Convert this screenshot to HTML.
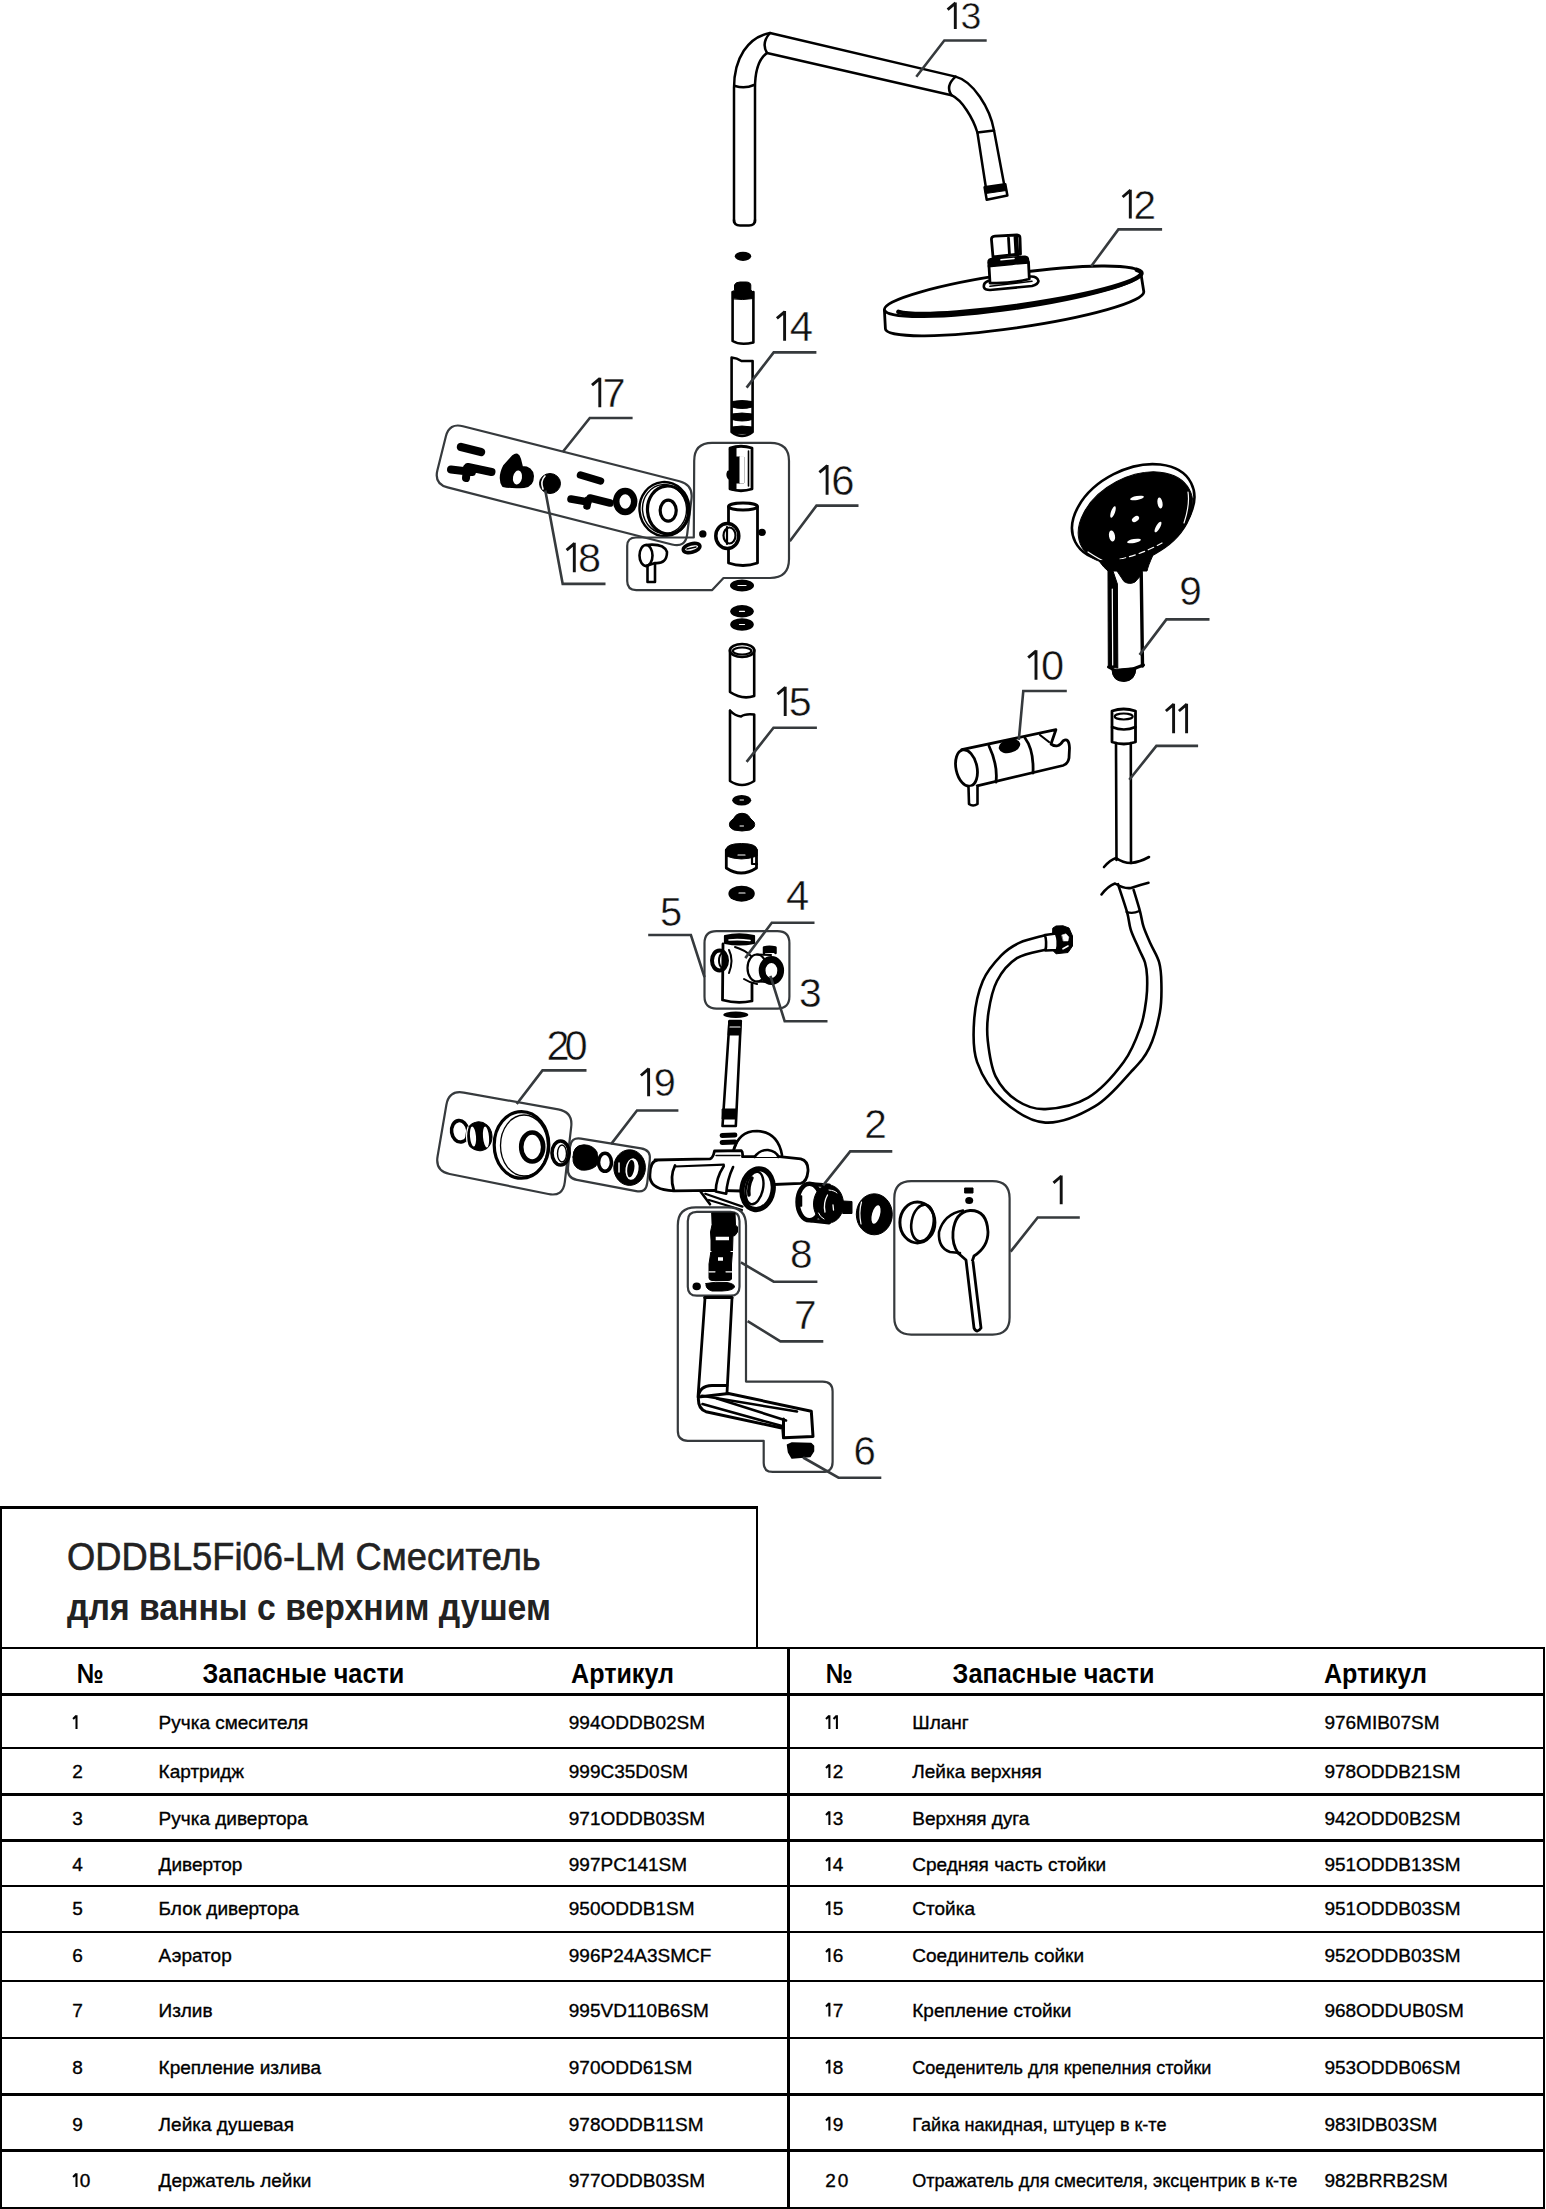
<!DOCTYPE html>
<html><head><meta charset="utf-8"><style>
html,body{margin:0;padding:0;background:#fff;}
body{width:1546px;height:2209px;overflow:hidden;position:relative;}
svg{position:absolute;left:0;top:0;font-family:"Liberation Sans",sans-serif;}
</style></head><body>
<svg width="1546" height="2209" viewBox="0 0 1546 2209">
<rect x="0" y="1506" width="758" height="3" fill="#000"/>
<rect x="0" y="1506" width="2" height="703" fill="#000"/>
<rect x="756" y="1506" width="2" height="142" fill="#000"/>
<rect x="0" y="1647" width="1545" height="2" fill="#000"/>
<rect x="0" y="1693" width="1545" height="3" fill="#000"/>
<rect x="0" y="1747" width="1545" height="2" fill="#000"/>
<rect x="0" y="1793" width="1545" height="3" fill="#000"/>
<rect x="0" y="1839" width="1545" height="3" fill="#000"/>
<rect x="0" y="1885" width="1545" height="2" fill="#000"/>
<rect x="0" y="1931" width="1545" height="2" fill="#000"/>
<rect x="0" y="1980" width="1545" height="2" fill="#000"/>
<rect x="0" y="2037" width="1545" height="2" fill="#000"/>
<rect x="0" y="2093" width="1545" height="3" fill="#000"/>
<rect x="0" y="2149" width="1545" height="3" fill="#000"/>
<rect x="0" y="2207" width="1545" height="2" fill="#000"/>
<rect x="787" y="1647" width="3" height="562" fill="#000"/>
<rect x="1543" y="1647" width="2" height="562" fill="#000"/>
<text transform="translate(67.0 1570.0) scale(0.9316 1)" font-size="39" font-weight="normal" fill="#222" stroke="#222" stroke-width="0.6">ODDBL5Fi06-LM Смеситель</text>
<text transform="translate(67.0 1620.0) scale(0.9254 1)" font-size="36.5" font-weight="bold" fill="#222" >для ванны с верхним душем</text>
<text transform="translate(76.8 1683.0) scale(0.8795 1)" font-size="27.5" font-weight="bold" fill="#000" >№</text>
<text transform="translate(202.5 1683.0) scale(0.9194 1)" font-size="27.5" font-weight="bold" fill="#000" >Запасные части</text>
<text transform="translate(571.0 1683.0) scale(0.9131 1)" font-size="27.5" font-weight="bold" fill="#000" >Артикул</text>
<text transform="translate(825.8 1683.0) scale(0.8795 1)" font-size="27.5" font-weight="bold" fill="#000" >№</text>
<text transform="translate(952.6 1683.0) scale(0.9194 1)" font-size="27.5" font-weight="bold" fill="#000" >Запасные части</text>
<text transform="translate(1323.9 1683.0) scale(0.9131 1)" font-size="27.5" font-weight="bold" fill="#000" >Артикул</text>
<path d="M 76.5,1715.2 L 76.5,1729.0 M 76.3,1715.8 L 73.1,1719.0" fill="none" stroke="#000" stroke-width="2.05" stroke-linecap="butt"/>
<text x="158.6" y="1729.0" font-size="19" font-weight="normal" fill="#000" stroke="#000" stroke-width="0.35">Ручка смесителя</text>
<text x="568.8" y="1729.0" font-size="19" font-weight="normal" fill="#000" stroke="#000" stroke-width="0.35">994ODDB02SM</text>
<path d="M 829.4,1715.2 L 829.4,1729.0 M 829.2,1715.8 L 826.0,1719.0" fill="none" stroke="#000" stroke-width="2.05" stroke-linecap="butt"/><path d="M 836.9,1715.2 L 836.9,1729.0 M 836.7,1715.8 L 833.5,1719.0" fill="none" stroke="#000" stroke-width="2.05" stroke-linecap="butt"/>
<text x="912.3" y="1729.0" font-size="19" font-weight="normal" fill="#000" stroke="#000" stroke-width="0.35">Шланг</text>
<text x="1324.4" y="1729.0" font-size="19" font-weight="normal" fill="#000" stroke="#000" stroke-width="0.35">976MIB07SM</text>
<text x="72.3" y="1778" font-size="19" fill="#000" stroke="#000" stroke-width="0.35">2</text>
<text x="158.6" y="1778.0" font-size="19" font-weight="normal" fill="#000" stroke="#000" stroke-width="0.35">Картридж</text>
<text x="568.8" y="1778.0" font-size="19" font-weight="normal" fill="#000" stroke="#000" stroke-width="0.35">999C35D0SM</text>
<path d="M 829.4,1764.2 L 829.4,1778.0 M 829.2,1764.8 L 826.0,1768.0" fill="none" stroke="#000" stroke-width="2.05" stroke-linecap="butt"/><text x="832.7" y="1778" font-size="19" fill="#000" stroke="#000" stroke-width="0.35">2</text>
<text x="912.3" y="1778.0" font-size="19" font-weight="normal" fill="#000" stroke="#000" stroke-width="0.35">Лейка верхняя</text>
<text x="1324.4" y="1778.0" font-size="19" font-weight="normal" fill="#000" stroke="#000" stroke-width="0.35">978ODDB21SM</text>
<text x="72.3" y="1825" font-size="19" fill="#000" stroke="#000" stroke-width="0.35">3</text>
<text x="158.6" y="1825.0" font-size="19" font-weight="normal" fill="#000" stroke="#000" stroke-width="0.35">Ручка дивертора</text>
<text x="568.8" y="1825.0" font-size="19" font-weight="normal" fill="#000" stroke="#000" stroke-width="0.35">971ODDB03SM</text>
<path d="M 829.4,1811.2 L 829.4,1825.0 M 829.2,1811.8 L 826.0,1815.0" fill="none" stroke="#000" stroke-width="2.05" stroke-linecap="butt"/><text x="832.7" y="1825" font-size="19" fill="#000" stroke="#000" stroke-width="0.35">3</text>
<text x="912.3" y="1825.0" font-size="19" font-weight="normal" fill="#000" stroke="#000" stroke-width="0.35">Верхняя дуга</text>
<text x="1324.4" y="1825.0" font-size="19" font-weight="normal" fill="#000" stroke="#000" stroke-width="0.35">942ODD0B2SM</text>
<text x="72.3" y="1871" font-size="19" fill="#000" stroke="#000" stroke-width="0.35">4</text>
<text x="158.6" y="1871.0" font-size="19" font-weight="normal" fill="#000" stroke="#000" stroke-width="0.35">Дивертор</text>
<text x="568.8" y="1871.0" font-size="19" font-weight="normal" fill="#000" stroke="#000" stroke-width="0.35">997PC141SM</text>
<path d="M 829.4,1857.2 L 829.4,1871.0 M 829.2,1857.8 L 826.0,1861.0" fill="none" stroke="#000" stroke-width="2.05" stroke-linecap="butt"/><text x="832.7" y="1871" font-size="19" fill="#000" stroke="#000" stroke-width="0.35">4</text>
<text x="912.3" y="1871.0" font-size="19" font-weight="normal" fill="#000" stroke="#000" stroke-width="0.35">Средняя часть стойки</text>
<text x="1324.4" y="1871.0" font-size="19" font-weight="normal" fill="#000" stroke="#000" stroke-width="0.35">951ODDB13SM</text>
<text x="72.3" y="1915" font-size="19" fill="#000" stroke="#000" stroke-width="0.35">5</text>
<text x="158.6" y="1915.0" font-size="19" font-weight="normal" fill="#000" stroke="#000" stroke-width="0.35">Блок дивертора</text>
<text x="568.8" y="1915.0" font-size="19" font-weight="normal" fill="#000" stroke="#000" stroke-width="0.35">950ODDB1SM</text>
<path d="M 829.4,1901.2 L 829.4,1915.0 M 829.2,1901.8 L 826.0,1905.0" fill="none" stroke="#000" stroke-width="2.05" stroke-linecap="butt"/><text x="832.7" y="1915" font-size="19" fill="#000" stroke="#000" stroke-width="0.35">5</text>
<text x="912.3" y="1915.0" font-size="19" font-weight="normal" fill="#000" stroke="#000" stroke-width="0.35">Стойка</text>
<text x="1324.4" y="1915.0" font-size="19" font-weight="normal" fill="#000" stroke="#000" stroke-width="0.35">951ODDB03SM</text>
<text x="72.3" y="1962" font-size="19" fill="#000" stroke="#000" stroke-width="0.35">6</text>
<text x="158.6" y="1962.0" font-size="19" font-weight="normal" fill="#000" stroke="#000" stroke-width="0.35">Аэратор</text>
<text x="568.8" y="1962.0" font-size="19" font-weight="normal" fill="#000" stroke="#000" stroke-width="0.35">996P24A3SMCF</text>
<path d="M 829.4,1948.2 L 829.4,1962.0 M 829.2,1948.8 L 826.0,1952.0" fill="none" stroke="#000" stroke-width="2.05" stroke-linecap="butt"/><text x="832.7" y="1962" font-size="19" fill="#000" stroke="#000" stroke-width="0.35">6</text>
<text x="912.3" y="1962.0" font-size="19" font-weight="normal" fill="#000" stroke="#000" stroke-width="0.35">Соединитель сойки</text>
<text x="1324.4" y="1962.0" font-size="19" font-weight="normal" fill="#000" stroke="#000" stroke-width="0.35">952ODDB03SM</text>
<text x="72.3" y="2016.5" font-size="19" fill="#000" stroke="#000" stroke-width="0.35">7</text>
<text x="158.6" y="2016.5" font-size="19" font-weight="normal" fill="#000" stroke="#000" stroke-width="0.35">Излив</text>
<text x="568.8" y="2016.5" font-size="19" font-weight="normal" fill="#000" stroke="#000" stroke-width="0.35">995VD110B6SM</text>
<path d="M 829.4,2002.7 L 829.4,2016.5 M 829.2,2003.3 L 826.0,2006.5" fill="none" stroke="#000" stroke-width="2.05" stroke-linecap="butt"/><text x="832.7" y="2016.5" font-size="19" fill="#000" stroke="#000" stroke-width="0.35">7</text>
<text x="912.3" y="2016.5" font-size="19" font-weight="normal" fill="#000" stroke="#000" stroke-width="0.35">Крепление стойки</text>
<text x="1324.4" y="2016.5" font-size="19" font-weight="normal" fill="#000" stroke="#000" stroke-width="0.35">968ODDUB0SM</text>
<text x="72.3" y="2073.5" font-size="19" fill="#000" stroke="#000" stroke-width="0.35">8</text>
<text x="158.6" y="2073.5" font-size="19" font-weight="normal" fill="#000" stroke="#000" stroke-width="0.35">Крепление излива</text>
<text x="568.8" y="2073.5" font-size="19" font-weight="normal" fill="#000" stroke="#000" stroke-width="0.35">970ODD61SM</text>
<path d="M 829.4,2059.7 L 829.4,2073.5 M 829.2,2060.3 L 826.0,2063.5" fill="none" stroke="#000" stroke-width="2.05" stroke-linecap="butt"/><text x="832.7" y="2073.5" font-size="19" fill="#000" stroke="#000" stroke-width="0.35">8</text>
<text transform="translate(912.3 2073.5) scale(0.9500 1)" font-size="19" font-weight="normal" fill="#000" stroke="#000" stroke-width="0.35">Соеденитель для крепелния стойки</text>
<text x="1324.4" y="2073.5" font-size="19" font-weight="normal" fill="#000" stroke="#000" stroke-width="0.35">953ODDB06SM</text>
<text x="72.3" y="2130.5" font-size="19" fill="#000" stroke="#000" stroke-width="0.35">9</text>
<text x="158.6" y="2130.5" font-size="19" font-weight="normal" fill="#000" stroke="#000" stroke-width="0.35">Лейка душевая</text>
<text x="568.8" y="2130.5" font-size="19" font-weight="normal" fill="#000" stroke="#000" stroke-width="0.35">978ODDB11SM</text>
<path d="M 829.4,2116.7 L 829.4,2130.5 M 829.2,2117.3 L 826.0,2120.5" fill="none" stroke="#000" stroke-width="2.05" stroke-linecap="butt"/><text x="832.7" y="2130.5" font-size="19" fill="#000" stroke="#000" stroke-width="0.35">9</text>
<text transform="translate(912.3 2130.5) scale(0.9500 1)" font-size="19" font-weight="normal" fill="#000" stroke="#000" stroke-width="0.35">Гайка накидная, штуцер в к-те</text>
<text x="1324.4" y="2130.5" font-size="19" font-weight="normal" fill="#000" stroke="#000" stroke-width="0.35">983IDB03SM</text>
<path d="M 76.5,2173.2 L 76.5,2187.0 M 76.3,2173.8 L 73.1,2177.0" fill="none" stroke="#000" stroke-width="2.05" stroke-linecap="butt"/><text x="79.8" y="2187" font-size="19" fill="#000" stroke="#000" stroke-width="0.35">0</text>
<text x="158.6" y="2187.0" font-size="19" font-weight="normal" fill="#000" stroke="#000" stroke-width="0.35">Держатель лейки</text>
<text x="568.8" y="2187.0" font-size="19" font-weight="normal" fill="#000" stroke="#000" stroke-width="0.35">977ODDB03SM</text>
<text x="825.2" y="2187" font-size="19" fill="#000" stroke="#000" stroke-width="0.35">2</text><text x="837.8" y="2187" font-size="19" fill="#000" stroke="#000" stroke-width="0.35">0</text>
<text transform="translate(912.3 2187.0) scale(0.9500 1)" font-size="19" font-weight="normal" fill="#000" stroke="#000" stroke-width="0.35">Отражатель для смесителя, эксцентрик в к-те</text>
<text x="1324.4" y="2187.0" font-size="19" font-weight="normal" fill="#000" stroke="#000" stroke-width="0.35">982BRRB2SM</text>
<path d="M 734,222 L 734,88 C 734,58 748,37 770,33 L 955.6,76.6 C 973,81 990,108 994,130.4 L 1004.3,185.3" fill="none" stroke="#000" stroke-width="2.5" stroke-linejoin="round" stroke-linecap="round" />
<path d="M 755,222 L 755,88 C 755,70 760,58 767,53 L 951.5,95.2 C 962,100 973,118 977.4,132.5 L 985.7,186.3" fill="none" stroke="#000" stroke-width="2.5" stroke-linejoin="round" stroke-linecap="round" />
<path d="M 734,220 Q 734,225.5 740,225.5 L 749,225.5 Q 755,225.5 755,220" fill="none" stroke="#000" stroke-width="2.5" stroke-linejoin="round" stroke-linecap="round" />
<path d="M 735,86 Q 745,89 754,85" fill="none" stroke="#000" stroke-width="2.5" stroke-linejoin="round" stroke-linecap="round" />
<path d="M 770,33 Q 761,43 767,53" fill="none" stroke="#000" stroke-width="2.5" stroke-linejoin="round" stroke-linecap="round" />
<path d="M 955.6,76.6 Q 945,86 951.5,95.2" fill="none" stroke="#000" stroke-width="2.5" stroke-linejoin="round" stroke-linecap="round" />
<path d="M 977.4,132.5 L 994,130.4" fill="none" stroke="#000" stroke-width="2.5" stroke-linejoin="round" stroke-linecap="round" />
<path d="M 984.6,187.3 L 1005.3,184.2 L 1007.4,195.6 L 986.7,199.8 Z" fill="none" stroke="#000" stroke-width="2.5" stroke-linejoin="round" stroke-linecap="round" />
<path d="M 984.8,187.5 L 1005.3,184.4 L 1006.3,190.5 L 985.8,193.5 Z" fill="#000" stroke="#000" stroke-width="1" stroke-linejoin="round" stroke-linecap="round" />
<path d="M 884.4,309.8 L 885.4,328.8 A 129.5 17.5 -8.2 0 0 1143.8,291.8 L 1140.8,272.8" fill="#fff" stroke="#000" stroke-width="2.8" stroke-linejoin="round" stroke-linecap="round" />
<ellipse cx="1012.6" cy="291.3" rx="129.5" ry="17.5" fill="#fff" stroke="#000" stroke-width="2.8" transform="rotate(-8.2 1012.6 291.3)"/>
<path d="M 898.4,311.8 A 121.5 14.5 -8.2 0 0 1136.8,269.8" fill="none" stroke="#000" stroke-width="4.5" stroke-linejoin="round" stroke-linecap="round" />
<path d="M 984,287.5 Q 983,283 988,281 L 1030,276.5 Q 1037,276 1038.5,281 Q 1038,284.5 1032,286 L 990,290 Q 985,290 984,287.5 Z" fill="#fff" stroke="#000" stroke-width="2.6" stroke-linejoin="round" stroke-linecap="round" />
<path d="M 990,286.3 L 1032,281.3" fill="none" stroke="#000" stroke-width="1.6" stroke-linejoin="round" stroke-linecap="round" />
<path d="M 989,266 L 990,283 Q 1010,284 1029.3,279 L 1028.5,262" fill="#fff" stroke="#000" stroke-width="2.8" stroke-linejoin="round" stroke-linecap="round" />
<path d="M 988,262.5 Q 988,258.5 993,258.3 L 1025,256.2 Q 1028.5,256.5 1028.5,260 L 1028.4,263 Q 1020,263.5 1012,264.5 L 988.5,266.8 Z" fill="#000" stroke="#000" stroke-width="1.5" stroke-linejoin="round" stroke-linecap="round" />
<path d="M 1001,259.8 L 1014,258.5" fill="none" stroke="#fff" stroke-width="1.6" stroke-linejoin="round" stroke-linecap="round" />
<path d="M 991.5,240 Q 991,236.5 995,236.2 L 1017,235 Q 1020,235.2 1020,238 L 1020.5,254 L 993,257 Z" fill="#fff" stroke="#000" stroke-width="2.8" stroke-linejoin="round" stroke-linecap="round" />
<path d="M 1008.5,238 L 1009.5,255 M 1015,237.5 L 1016,255" fill="none" stroke="#000" stroke-width="2.8" stroke-linejoin="round" stroke-linecap="round" />
<path d="M 1017,237 L 1018,255" fill="none" stroke="#000" stroke-width="2.5" stroke-linejoin="round" stroke-linecap="round" />
<ellipse cx="743" cy="256.3" rx="8.2" ry="4.6" fill="#000"/>
<path d="M 732.6,292 L 732.6,341 Q 740,345.5 753.4,342.5 L 753.4,292" fill="none" stroke="#000" stroke-width="2.6" stroke-linejoin="round" stroke-linecap="round" />
<path d="M 732.4,298.5 L 732.4,292 L 734.5,290 L 734.5,285 Q 735.5,282 740,282 L 746,282 Q 750.5,282 750.8,285 L 750.8,290 L 753.6,292.5 L 753.6,298.5 L 743,299.5 Z" fill="#000" stroke="#000" stroke-width="1" stroke-linejoin="round" stroke-linecap="round" />
<path d="M 731.6,357.5 L 731.6,432 Q 742,440 752.6,432 L 752.6,361 L 741.5,361 Q 737,358 731.6,357.5 Z" fill="none" stroke="#000" stroke-width="2.6" stroke-linejoin="round" stroke-linecap="round" />
<path d="M 732,401.5 Q 742,399.5 752.2,401.5 L 752.2,407.0 Q 742,410.0 732,407.0 Z" fill="#000" stroke="#000" stroke-width="1" stroke-linejoin="round" stroke-linecap="round" />
<path d="M 732,414 Q 742,412 752.2,414 L 752.2,419.5 Q 742,422.5 732,419.5 Z" fill="#000" stroke="#000" stroke-width="1" stroke-linejoin="round" stroke-linecap="round" />
<path d="M 732,427 Q 742,425 752.2,427 L 752.2,432.5 Q 742,435.5 732,432.5 Z" fill="#000" stroke="#000" stroke-width="1" stroke-linejoin="round" stroke-linecap="round" />
<path d="M 445.9,436.3 Q 449.3,422.7 462.9,426.2 L 679.5,481.2 Q 693.1,484.7 691.5,498.6 L 687.2,534.1 Q 685.6,548.0 672.0,544.5 L 447.6,487.4 Q 434.0,483.9 437.4,470.3 Z" fill="none" stroke="#363a3d" stroke-width="2.2" stroke-linejoin="round" stroke-linecap="butt"/>
<path d="M 461,447 L 481,452" fill="none" stroke="#000" stroke-width="8.5" stroke-linejoin="round" stroke-linecap="round" />
<path d="M 451,469.5 L 472,472 M 468,467 L 491.5,472 M 467,468 L 466,478" fill="none" stroke="#000" stroke-width="8" stroke-linejoin="round" stroke-linecap="round" />
<path d="M 503,486 Q 498,478 504,466 L 513,456 Q 518,452 520,459 L 522,467 Q 532,467 533,476 Q 533,486 524,487 Q 512,488 503,486 Z" fill="#000" stroke="#000" stroke-width="2" stroke-linejoin="round" stroke-linecap="round" />
<ellipse cx="517.5" cy="477.5" rx="5.5" ry="8" fill="#fff" stroke="#000" stroke-width="2" transform="rotate(10 517.5 477.5)"/>
<path d="M 522,470 Q 526,477 522,485" fill="none" stroke="#000" stroke-width="2.2" stroke-linejoin="round" stroke-linecap="round" />
<ellipse cx="550" cy="483.5" rx="10.5" ry="10" fill="#000" stroke="#000" stroke-width="1"/>
<path d="M 545,476 Q 540,481 543,489" fill="none" stroke="#fff" stroke-width="1.6" stroke-linejoin="round" stroke-linecap="round" />
<path d="M 580.5,475 L 600.5,481" fill="none" stroke="#000" stroke-width="7.5" stroke-linejoin="round" stroke-linecap="round" />
<path d="M 571,499 L 588,502 M 590,498 L 610,503 M 588,500 L 587,506" fill="none" stroke="#000" stroke-width="7.5" stroke-linejoin="round" stroke-linecap="round" />
<ellipse cx="625.2" cy="501.5" rx="9" ry="10.5" fill="none" stroke="#000" stroke-width="6.5"/>
<ellipse cx="664.5" cy="509" rx="25" ry="27" fill="#fff" stroke="#000" stroke-width="2.4" transform="rotate(-5 664.5 509)"/>
<ellipse cx="664.5" cy="509" rx="22" ry="24.5" fill="none" stroke="#000" stroke-width="1.4" transform="rotate(-5 664.5 509)"/>
<ellipse cx="668" cy="510" rx="20.5" ry="24" fill="none" stroke="#000" stroke-width="3.2" transform="rotate(-5 668 510)"/>
<ellipse cx="668.2" cy="510.7" rx="8" ry="10.5" fill="none" stroke="#000" stroke-width="3.2"/>
<path d="M 712,442.9 L 770.4,442.9 Q 789,442.9 789,461 L 789,559 Q 789,578 770,578 L 723.5,578 L 712.2,590.1 L 636.2,590.1 Q 627.2,590 627.2,581 L 627.2,546 Q 627.2,537.5 636,537.5 L 693.8,537.5 L 694.2,461 Q 694.2,442.9 712,442.9 Z" fill="none" stroke="#363a3d" stroke-width="2.2" stroke-linejoin="round" stroke-linecap="butt"/>
<path d="M 730,448 Q 741,444.5 752,448 L 752,489 Q 741,492.5 730,489 Z" fill="none" stroke="#000" stroke-width="2.8" stroke-linejoin="round" stroke-linecap="round" />
<path d="M 729.5,449 L 729.5,489 Q 733,491 736,490 L 736,483 L 744,483 L 744,457 L 736,457 L 736,448 Q 733,447 729.5,449 Z" fill="#000" stroke="#000" stroke-width="1" stroke-linejoin="round" stroke-linecap="round" />
<path d="M 744,457 L 744,483 L 740,483 L 740,457 Z" fill="#fff" stroke="#fff" stroke-width="1" stroke-linejoin="round" stroke-linecap="round" />
<path d="M 748.5,451 L 748.5,486" fill="none" stroke="#000" stroke-width="1.6" stroke-linejoin="round" stroke-linecap="round" />
<path d="M 728.5,472 Q 727,475 729,478" fill="none" stroke="#000" stroke-width="3" stroke-linejoin="round" stroke-linecap="round" />
<path d="M 728.5,507 L 728.5,563 Q 743,568 757.5,563 L 757.5,507" fill="none" stroke="#000" stroke-width="2.8" stroke-linejoin="round" stroke-linecap="round" />
<ellipse cx="743" cy="506.5" rx="14.5" ry="3.5" fill="none" stroke="#000" stroke-width="2.8"/>
<ellipse cx="727.3" cy="536" rx="11.5" ry="12.5" fill="#fff" stroke="#000" stroke-width="3.5"/>
<ellipse cx="729.5" cy="535.5" rx="6" ry="8" fill="none" stroke="#000" stroke-width="2.2"/>
<path d="M 727,527 L 727,544" fill="none" stroke="#000" stroke-width="2.2" stroke-linejoin="round" stroke-linecap="round" />
<ellipse cx="762" cy="532.3" rx="3.8" ry="3.6" fill="#000"/>
<ellipse cx="702.8" cy="533.9" rx="3.7" ry="3.6" fill="#000"/>
<ellipse cx="691.6" cy="548" rx="8.5" ry="4.2" fill="none" stroke="#000" stroke-width="3.6" transform="rotate(-15 691.6 548)"/>
<path d="M 687,549 L 696,547" fill="none" stroke="#000" stroke-width="1.5" stroke-linejoin="round" stroke-linecap="round" />
<ellipse cx="646" cy="555.5" rx="6.5" ry="10.5" fill="#fff" stroke="#000" stroke-width="2.6"/>
<path d="M 646,545 Q 664,543 667,552 Q 667,564 655,563 L 646,566" fill="none" stroke="#000" stroke-width="2.6" stroke-linejoin="round" stroke-linecap="round" />
<path d="M 647.5,566 L 647.5,582 L 655,582 L 655,564" fill="none" stroke="#000" stroke-width="2.6" stroke-linejoin="round" stroke-linecap="round" />
<ellipse cx="742" cy="585.6" rx="12" ry="6" fill="#000"/>
<path d="M 738,585.5 L 746,585.5" fill="none" stroke="#fff" stroke-width="1.2" stroke-linejoin="round" stroke-linecap="round" />
<ellipse cx="742" cy="611.3" rx="11.8" ry="6.2" fill="#000"/>
<path d="M 739.5,611.3 L 744.5,611.3" fill="none" stroke="#fff" stroke-width="1.2" stroke-linejoin="round" stroke-linecap="round" />
<ellipse cx="742" cy="624.5" rx="11.8" ry="6.2" fill="#000"/>
<path d="M 739.5,624.5 L 744.5,624.5" fill="none" stroke="#fff" stroke-width="1.2" stroke-linejoin="round" stroke-linecap="round" />
<path d="M 730,650 L 730,692 Q 742,700 754.2,696 L 754.2,650" fill="none" stroke="#000" stroke-width="2.6" stroke-linejoin="round" stroke-linecap="round" />
<ellipse cx="742.1" cy="650.5" rx="12.2" ry="6.5" fill="none" stroke="#000" stroke-width="2.6"/>
<ellipse cx="742.1" cy="651" rx="9.2" ry="3.5" fill="none" stroke="#000" stroke-width="2.2"/>
<path d="M 730,710.5 L 730,781 Q 742,789 754.2,781 L 754.2,714.5 Q 745,713.5 741,716.5 Q 735,716 730,710.5 Z" fill="none" stroke="#000" stroke-width="2.6" stroke-linejoin="round" stroke-linecap="round" />
<ellipse cx="741.7" cy="800.2" rx="9.5" ry="5.3" fill="#000"/>
<path d="M 740,800 L 743.5,800" fill="none" stroke="#fff" stroke-width="1" stroke-linejoin="round" stroke-linecap="round" />
<path d="M 734,818 Q 736,813.5 742,813.3 Q 748,813.5 750,818 L 754,822 Q 756.5,827 750,830 Q 742,832 734,830 Q 727.5,827 730,822 Z" fill="#000" stroke="#000" stroke-width="1" stroke-linejoin="round" stroke-linecap="round" />
<path d="M 740,826 L 743.5,826" fill="none" stroke="#fff" stroke-width="1" stroke-linejoin="round" stroke-linecap="round" />
<path d="M 726.3,850 L 726.3,868 Q 741,878 756.5,868 L 756.5,850" fill="none" stroke="#000" stroke-width="2.8" stroke-linejoin="round" stroke-linecap="round" />
<path d="M 726,850 Q 726,843.5 741.5,843.5 Q 757,843.5 757,850 L 757,856 Q 741.5,862 726,856 Z" fill="#000" stroke="#000" stroke-width="1" stroke-linejoin="round" stroke-linecap="round" />
<path d="M 738,855 L 745,855" fill="none" stroke="#fff" stroke-width="1.2" stroke-linejoin="round" stroke-linecap="round" />
<path d="M 752,856 L 752,864 L 757,864" fill="none" stroke="#000" stroke-width="2.2" stroke-linejoin="round" stroke-linecap="round" />
<ellipse cx="741.6" cy="893.7" rx="13.2" ry="8" fill="#000"/>
<path d="M 739,893 L 745,893" fill="none" stroke="#fff" stroke-width="1.2" stroke-linejoin="round" stroke-linecap="round" />
<path d="M 704.5,943.1 Q 704.5,931.1 716.5,931.1 L 777.4,931.1 Q 789.4,931.1 789.4,943.1 L 789.4,996.6 Q 789.4,1008.6 777.4,1008.6 L 716.5,1008.6 Q 704.5,1008.6 704.5,996.6 Z" fill="none" stroke="#363a3d" stroke-width="2.2" stroke-linejoin="round" stroke-linecap="butt"/>
<path d="M 723,944 L 722.5,1000 Q 737,1004 752,1001 L 752,984" fill="none" stroke="#000" stroke-width="2.8" stroke-linejoin="round" stroke-linecap="round" />
<path d="M 725,936 Q 739,932.5 754,936 L 754,943 Q 739,946 725,943 Z" fill="#000" stroke="#000" stroke-width="2.2" stroke-linejoin="round" stroke-linecap="round" />
<path d="M 729,940 Q 739,939 750,940.5" fill="none" stroke="#fff" stroke-width="1.6" stroke-linejoin="round" stroke-linecap="round" />
<ellipse cx="719.5" cy="960.5" rx="7.5" ry="10" fill="none" stroke="#000" stroke-width="4"/>
<ellipse cx="722" cy="960.5" rx="3" ry="7" fill="none" stroke="#000" stroke-width="2"/>
<path d="M 729,950 Q 734,960 729,973" fill="none" stroke="#000" stroke-width="2" stroke-linejoin="round" stroke-linecap="round" />
<path d="M 735,947 Q 745,950 751,956" fill="none" stroke="#000" stroke-width="2" stroke-linejoin="round" stroke-linecap="round" />
<path d="M 744,979 Q 750,983 757,984" fill="none" stroke="#000" stroke-width="2" stroke-linejoin="round" stroke-linecap="round" />
<ellipse cx="757" cy="968" rx="9.5" ry="13.5" fill="#fff" stroke="#000" stroke-width="2.2"/>
<path d="M 757,954.5 L 771,955 M 757,981.5 L 770,982" fill="none" stroke="#000" stroke-width="2.2" stroke-linejoin="round" stroke-linecap="round" />
<ellipse cx="771.4" cy="970.5" rx="9.3" ry="11" fill="#fff" stroke="#000" stroke-width="6.8"/>
<path d="M 764,953 L 764,947.5 Q 769,946 775.5,947.5 L 775.5,953" fill="#000" stroke="#000" stroke-width="2.5" stroke-linejoin="round" stroke-linecap="round" />
<ellipse cx="735.8" cy="1014.7" rx="12.5" ry="3.2" fill="#000"/>
<path d="M 729.5,1021 L 722.5,1126 L 735.8,1126 L 740.8,1021 Z" fill="none" stroke="#000" stroke-width="2.6" stroke-linejoin="round" stroke-linecap="round" />
<path d="M 729,1021 L 741,1021 L 740.5,1035 L 728.5,1035 Z" fill="#000" stroke="#000" stroke-width="1" stroke-linejoin="round" stroke-linecap="round" />
<path d="M 730,1027 L 740,1027" fill="none" stroke="#fff" stroke-width="1.2" stroke-linejoin="round" stroke-linecap="round" />
<path d="M 722.5,1109 L 736.5,1109 L 736.3,1119 L 722.5,1119 Z" fill="#000" stroke="#000" stroke-width="1" stroke-linejoin="round" stroke-linecap="round" />
<path d="M 722,1135.5 L 735,1135 M 722,1142.5 L 735,1142" fill="none" stroke="#000" stroke-width="4.8" stroke-linejoin="round" stroke-linecap="round" />
<path d="M 733,1152 Q 738,1131 757,1131 Q 778,1132 782,1155" fill="#fff" stroke="#000" stroke-width="2.6" stroke-linejoin="round" stroke-linecap="round" />
<path d="M 734.5,1150 Q 737,1141 743,1135" fill="none" stroke="#000" stroke-width="1.0" stroke-linejoin="round" stroke-linecap="round" />
<path d="M 655,1160 L 710,1158.9 Q 713,1158 714.5,1151 L 741.3,1150.7 Q 743,1152 742.5,1156.6 L 779.7,1156.6 L 800.7,1158.9 Q 808.5,1161 808,1171 Q 807,1182 800.7,1183.3 L 773.9,1184.5 L 742,1191 L 715.7,1190.3 L 673.8,1190.8 Q 652,1190 650,1178 Q 649,1161 658,1160 Z" fill="#fff" stroke="#000" stroke-width="2.8" stroke-linejoin="round" stroke-linecap="round" />
<path d="M 716,1155.5 L 740,1155.5" fill="none" stroke="#000" stroke-width="1.5" stroke-linejoin="round" stroke-linecap="round" />
<path d="M 675,1165.5 Q 669.5,1177 673.8,1190.3" fill="none" stroke="#000" stroke-width="2.8" stroke-linejoin="round" stroke-linecap="round" />
<path d="M 675,1166.5 L 723.8,1164.7" fill="none" stroke="#000" stroke-width="2.2" stroke-linejoin="round" stroke-linecap="round" />
<path d="M 754.5,1157 Q 760,1149.5 768,1150 Q 776,1151 778.5,1157" fill="#fff" stroke="#000" stroke-width="2.6" stroke-linejoin="round" stroke-linecap="round" />
<path d="M 723.8,1166 Q 716,1178 715.7,1191.5 L 726.2,1193.8 Q 727,1180 733.1,1167" fill="#fff" stroke="#000" stroke-width="2.6" stroke-linejoin="round" stroke-linecap="round" />
<path d="M 700.5,1191.5 L 710,1204.3" fill="none" stroke="#000" stroke-width="2.6" stroke-linejoin="round" stroke-linecap="round" />
<path d="M 705.2,1193.8 L 742.5,1206.6 M 709,1200 L 742,1210" fill="none" stroke="#000" stroke-width="2.2" stroke-linejoin="round" stroke-linecap="round" />
<ellipse cx="757.6" cy="1189.2" rx="15.5" ry="20.5" fill="#fff" stroke="#000" stroke-width="5.2" transform="rotate(10 757.6 1189.2)"/>
<ellipse cx="754.5" cy="1188" rx="8.5" ry="16.5" fill="none" stroke="#000" stroke-width="2.4" transform="rotate(12 754.5 1188)"/>
<path d="M 749,1195 Q 748,1186 752,1178" fill="none" stroke="#000" stroke-width="3.5" stroke-linejoin="round" stroke-linecap="round" />
<path d="M 446.4,1104.8 Q 449.0,1090.0 463.8,1092.6 L 558.2,1109.4 Q 573.0,1112.0 571.2,1126.9 L 564.8,1182.1 Q 563.0,1197.0 548.3,1194.0 L 449.7,1174.0 Q 435.0,1171.0 437.6,1156.2 Z" fill="none" stroke="#363a3d" stroke-width="2.2" stroke-linejoin="round" stroke-linecap="butt"/>
<path d="M 570.0,1147.0 Q 571.0,1137.0 580.9,1138.6 L 641.1,1148.4 Q 651.0,1150.0 649.8,1159.9 L 647.2,1183.1 Q 646.0,1193.0 636.2,1191.1 L 576.8,1179.9 Q 567.0,1178.0 568.0,1168.0 Z" fill="none" stroke="#363a3d" stroke-width="2.2" stroke-linejoin="round" stroke-linecap="butt"/>
<ellipse cx="459.8" cy="1131.3" rx="8.2" ry="10.8" fill="#fff" stroke="#000" stroke-width="3.6" transform="rotate(-8 459.8 1131.3)"/>
<ellipse cx="462" cy="1131.5" rx="3.5" ry="8" fill="#fff" transform="rotate(-8 462 1131.5)"/>
<ellipse cx="479" cy="1136.3" rx="13" ry="14.5" fill="#000" stroke="#000" stroke-width="1" transform="rotate(-8 479 1136.3)"/>
<ellipse cx="473" cy="1136.5" rx="3" ry="10" fill="#fff" transform="rotate(-5 473 1136.5)"/>
<ellipse cx="486" cy="1137" rx="3" ry="10.5" fill="#fff" transform="rotate(-5 486 1137)"/>
<path d="M 468,1127 Q 465,1136 468,1146" fill="none" stroke="#fff" stroke-width="1.3" stroke-linejoin="round" stroke-linecap="round" />
<ellipse cx="521.5" cy="1144.9" rx="27.3" ry="33.3" fill="#fff" stroke="#000" stroke-width="3.2"/>
<ellipse cx="524" cy="1145.5" rx="23.5" ry="30.5" fill="none" stroke="#000" stroke-width="1.3"/>
<ellipse cx="532.2" cy="1147" rx="11" ry="14.5" fill="none" stroke="#000" stroke-width="4.6"/>
<ellipse cx="560.6" cy="1153" rx="8.6" ry="12" fill="none" stroke="#000" stroke-width="3.6"/>
<ellipse cx="562" cy="1153.5" rx="4.5" ry="8.5" fill="none" stroke="#000" stroke-width="1.4"/>
<path d="M 573,1157 Q 573,1145 584,1144.8 Q 593,1145 597,1152 Q 599,1160 596,1166 Q 590,1171 581,1170 Q 572,1167 573,1157 Z" fill="#000" stroke="#000" stroke-width="1" stroke-linejoin="round" stroke-linecap="round" />
<ellipse cx="605" cy="1162.3" rx="6.5" ry="9" fill="none" stroke="#000" stroke-width="3.6"/>
<ellipse cx="629.6" cy="1167.6" rx="15.8" ry="17.8" fill="#000" stroke="#000" stroke-width="1"/>
<ellipse cx="632" cy="1169" rx="6.5" ry="10.8" fill="#fff" transform="rotate(8 632 1169)"/>
<ellipse cx="630.8" cy="1168.6" rx="3.5" ry="8.8" fill="#000" transform="rotate(8 630.8 1168.6)"/>
<path d="M 619,1163 L 619,1172" fill="none" stroke="#fff" stroke-width="1.5" stroke-linejoin="round" stroke-linecap="round" />
<ellipse cx="809.4" cy="1202" rx="11.8" ry="18.3" fill="#fff" stroke="#000" stroke-width="4.6"/>
<path d="M 799,1196 L 801.5,1196 L 801.5,1206 L 799,1206" fill="#000" stroke="#000" stroke-width="1.5" stroke-linejoin="round" stroke-linecap="round" />
<path d="M 843,1201 L 852,1201.5 L 852,1213.5 L 843,1213.5 Z" fill="#000" stroke="#000" stroke-width="1" stroke-linejoin="round" stroke-linecap="round" />
<path d="M 810,1184 L 829,1185.5 M 811,1220.5 L 829,1222.5" fill="none" stroke="#000" stroke-width="4" stroke-linejoin="round" stroke-linecap="round" />
<ellipse cx="828.5" cy="1204" rx="15" ry="19" fill="#000" stroke="#000" stroke-width="1"/>
<path d="M 829,1190 Q 835,1190.5 837,1193" fill="none" stroke="#fff" stroke-width="1.0" stroke-linejoin="round" stroke-linecap="round" />
<path d="M 827.5,1195 Q 823,1203 825,1212" fill="none" stroke="#fff" stroke-width="1.3" stroke-linejoin="round" stroke-linecap="round" />
<path d="M 833,1205 L 833.5,1210" fill="none" stroke="#fff" stroke-width="1.3" stroke-linejoin="round" stroke-linecap="round" />
<path d="M 818.5,1213 Q 820,1217 824,1219" fill="none" stroke="#fff" stroke-width="1.0" stroke-linejoin="round" stroke-linecap="round" />
<ellipse cx="874.3" cy="1214.3" rx="18" ry="20.5" fill="#000" stroke="#000" stroke-width="1"/>
<ellipse cx="876" cy="1214.5" rx="4" ry="9.6" fill="#fff" transform="rotate(15 876 1214.5)"/>
<path d="M 861.5,1202 Q 858.5,1212 861,1224" fill="none" stroke="#fff" stroke-width="1.2" stroke-linejoin="round" stroke-linecap="round" />
<path d="M 894.3,1198.2 Q 894.3,1181.2 911.3,1181.2 L 992.6,1181.2 Q 1009.6,1181.2 1009.6,1198.2 L 1009.6,1317.6 Q 1009.6,1334.6 992.6,1334.6 L 911.3,1334.6 Q 894.3,1334.6 894.3,1317.6 Z" fill="none" stroke="#363a3d" stroke-width="2.2" stroke-linejoin="round" stroke-linecap="butt"/>
<ellipse cx="917.4" cy="1222.4" rx="17.5" ry="20.5" fill="none" stroke="#000" stroke-width="3"/>
<ellipse cx="922.5" cy="1223" rx="11" ry="18.5" fill="none" stroke="#000" stroke-width="2.6" transform="rotate(10 922.5 1223)"/>
<path d="M 963,1210.5 Q 944,1214 939,1232 Q 938,1248 950,1252 L 960,1253" fill="none" stroke="#000" stroke-width="2.6" stroke-linejoin="round" stroke-linecap="round" />
<path d="M 958,1253 Q 952,1244 953,1232 Q 955,1212 970,1210.5 Q 987,1210 988,1232 Q 988,1247 974,1256 L 972,1262" fill="none" stroke="#000" stroke-width="2.8" stroke-linejoin="round" stroke-linecap="round" />
<path d="M 958,1253 L 966,1260 L 974,1328 Q 977,1334 981,1328 L 973,1262" fill="#fff" stroke="#000" stroke-width="2.8" stroke-linejoin="round" stroke-linecap="round" />
<path d="M 965,1188 L 973,1188 L 973,1193 L 965,1193 Z" fill="#000" stroke="#000" stroke-width="1" stroke-linejoin="round" stroke-linecap="round" />
<ellipse cx="969.2" cy="1200.5" rx="4" ry="3.5" fill="#000"/>
<path d="M 677.8,1225.4 Q 677.8,1207.4 695.8,1207.4 L 728.0,1207.4 Q 746.0,1207.4 746.0,1225.4 L 746.0,1381.6 Q 746.0,1381.6 746.0,1381.6 L 822.6,1381.6 Q 832.6,1381.6 832.6,1391.6 L 832.6,1461.9 Q 832.6,1471.9 822.6,1471.9 L 772.7,1471.9 Q 763.7,1471.9 763.7,1462.9 L 763.7,1440.8 Q 763.7,1440.8 763.7,1440.8 L 687.8,1440.8 Q 677.8,1440.8 677.8,1430.8 Z" fill="none" stroke="#363a3d" stroke-width="2.2" stroke-linejoin="round" stroke-linecap="butt"/>
<path d="M 687.8,1220.9 Q 687.8,1211.9 696.8,1211.9 L 730.5,1211.9 Q 739.5,1211.9 739.5,1220.9 L 739.5,1286.7 Q 739.5,1295.7 730.5,1295.7 L 696.8,1295.7 Q 687.8,1295.7 687.8,1286.7 Z" fill="none" stroke="#363a3d" stroke-width="2.2" stroke-linejoin="round" stroke-linecap="butt"/>
<path d="M 712,1213 L 735,1213 L 735.5,1225 L 737.5,1227 L 737.5,1232 L 735,1235.5 L 733,1236 L 732.5,1251 L 731.5,1264 L 731.5,1279 Q 731,1280.5 728,1280.5 L 712,1280.5 Q 709,1280 709,1278 L 709,1264 L 711,1251 L 711,1240 L 710.5,1232 L 712,1225 Z" fill="#000" stroke="#000" stroke-width="1" stroke-linejoin="round" stroke-linecap="round" />
<path d="M 715.7,1238.5 L 729,1238.5" fill="none" stroke="#fff" stroke-width="3.5" stroke-linejoin="round" stroke-linecap="butt"/>
<path d="M 718,1259 L 723,1259" fill="none" stroke="#fff" stroke-width="3.5" stroke-linejoin="round" stroke-linecap="butt"/>
<path d="M 709,1271.8 L 715,1271.8 M 726,1271.8 L 732,1271.8 M 731,1251.5 L 735,1251.5 M 708,1251.5 L 711,1251.5" fill="none" stroke="#fff" stroke-width="1.2" stroke-linejoin="round" stroke-linecap="round" />
<ellipse cx="696.7" cy="1286.4" rx="4.2" ry="3.8" fill="#000"/>
<path d="M 706,1283.5 Q 715,1281.5 727,1282.5 Q 735,1284 734.5,1287 Q 733,1290.5 722,1291 L 712,1291 Q 705,1289 706,1283.5 Z" fill="#000" stroke="#000" stroke-width="1" stroke-linejoin="round" stroke-linecap="round" />
<path d="M 704.7,1297.5 L 732,1297.5" fill="none" stroke="#000" stroke-width="3" stroke-linejoin="round" stroke-linecap="round" />
<path d="M 705,1298 L 698,1397" fill="none" stroke="#000" stroke-width="2.8" stroke-linejoin="round" stroke-linecap="round" />
<path d="M 732,1298 L 727,1393" fill="none" stroke="#000" stroke-width="2.8" stroke-linejoin="round" stroke-linecap="round" />
<path d="M 698.5,1397 Q 699,1386 712,1385.5 L 727,1385.5" fill="none" stroke="#000" stroke-width="2.8" stroke-linejoin="round" stroke-linecap="round" />
<path d="M 728.5,1393.5 L 811.3,1411.2 L 813,1436.5 L 783.5,1437.8 L 782.8,1428.2 L 706,1411.7 Q 697.5,1408.5 698.5,1397 Z" fill="none" stroke="#000" stroke-width="3" stroke-linejoin="round" stroke-linecap="round" />
<path d="M 702,1395.8 L 797,1411.5" fill="none" stroke="#000" stroke-width="2.6" stroke-linejoin="round" stroke-linecap="round" />
<path d="M 717,1398.5 L 786,1420.5" fill="none" stroke="#000" stroke-width="2.6" stroke-linejoin="round" stroke-linecap="round" />
<path d="M 702.5,1404 L 783,1426.3" fill="none" stroke="#000" stroke-width="2.6" stroke-linejoin="round" stroke-linecap="round" />
<path d="M 783.5,1419 L 783.5,1437" fill="none" stroke="#000" stroke-width="3" stroke-linejoin="round" stroke-linecap="round" />
<path d="M 787.5,1445 L 792,1443 L 811,1443.5 L 813.5,1446 L 813.5,1451 L 810,1456.5 L 792,1458 L 788.5,1452 Z" fill="#000" stroke="#000" stroke-width="1.5" stroke-linejoin="round" stroke-linecap="round" />
<ellipse cx="1133.2" cy="512.5" rx="65" ry="43" fill="#fff" stroke="#000" stroke-width="2.6" transform="rotate(-27 1133.2 512.5)"/>
<ellipse cx="1135.5" cy="518" rx="61" ry="41" fill="#000" stroke="#000" stroke-width="1" transform="rotate(-28 1135.5 518)"/>
<path d="M 1188,492 Q 1190,505 1184,523" fill="none" stroke="#fff" stroke-width="1.2" stroke-linejoin="round" stroke-linecap="round" />
<path d="M 1088,552 Q 1100,560 1108,563" fill="none" stroke="#fff" stroke-width="1.2" stroke-linejoin="round" stroke-linecap="round" />
<path d="M 1120,559 Q 1140,555 1162,543" fill="none" stroke="#fff" stroke-width="1.2" stroke-linejoin="round" stroke-linecap="round" stroke-dasharray="6 4"/>
<ellipse cx="1135.5" cy="519" rx="4" ry="2.5" fill="#fff" transform="rotate(-35 1135.5 519)"/>
<ellipse cx="1160" cy="503" rx="2.5" ry="5.5" fill="#fff" transform="rotate(-10 1160 503)"/>
<ellipse cx="1137" cy="498" rx="7" ry="2" fill="#fff" transform="rotate(-10 1137 498)"/>
<ellipse cx="1113" cy="512" rx="2" ry="6" fill="#fff" transform="rotate(20 1113 512)"/>
<ellipse cx="1112" cy="536" rx="3" ry="5.5" fill="#fff" transform="rotate(-10 1112 536)"/>
<ellipse cx="1134" cy="541" rx="7" ry="2" fill="#fff" transform="rotate(-10 1134 541)"/>
<ellipse cx="1158" cy="527" rx="2" ry="6" fill="#fff" transform="rotate(30 1158 527)"/>
<path d="M 1099,561 Q 1104,568 1108,571 L 1147,571 Q 1148,566 1153,555 L 1120,560 Z" fill="#000" stroke="#000" stroke-width="1" stroke-linejoin="round" stroke-linecap="round" />
<path d="M 1117,571 L 1124,581.5 Q 1129.5,585 1135,582 L 1139.5,577 L 1142,571 Z" fill="#000" stroke="#000" stroke-width="1" stroke-linejoin="round" stroke-linecap="round" />
<path d="M 1108,570 L 1108.3,667 L 1117.8,668 L 1117.4,584 L 1113,571 Z" fill="#000" stroke="#000" stroke-width="1" stroke-linejoin="round" stroke-linecap="round" />
<path d="M 1112.3,589 L 1112.7,665" fill="none" stroke="#fff" stroke-width="1.2" stroke-linejoin="round" stroke-linecap="round" />
<path d="M 1141.2,572 L 1142.5,666" fill="none" stroke="#000" stroke-width="3.4" stroke-linejoin="round" stroke-linecap="round" />
<path d="M 1108.5,667 L 1116,671 L 1133,669 L 1143.5,665" fill="none" stroke="#000" stroke-width="3" stroke-linejoin="round" stroke-linecap="round" />
<path d="M 1112,670 Q 1112.5,681.5 1124,681.5 Q 1135.5,681 1136,668 Z" fill="#000" stroke="#000" stroke-width="1" stroke-linejoin="round" stroke-linecap="round" />
<path d="M 961.7,749.6 L 1055.9,729.7 L 1051,744 Q 1058,749 1063,741 Q 1069,737 1069.5,748 L 1069,758 Q 1068,764 1063,765.5 L 977.1,785.8" fill="#fff" stroke="#000" stroke-width="2.8" stroke-linejoin="round" stroke-linecap="round" />
<ellipse cx="966.5" cy="768" rx="10.5" ry="18.5" fill="#fff" stroke="#000" stroke-width="2.8" transform="rotate(-12 966.5 768)"/>
<path d="M 989,746 Q 998,765 996,782" fill="none" stroke="#000" stroke-width="2.8" stroke-linejoin="round" stroke-linecap="round" />
<path d="M 1025,738 Q 1034,750 1033,773" fill="none" stroke="#000" stroke-width="2.8" stroke-linejoin="round" stroke-linecap="round" />
<ellipse cx="1009.5" cy="746" rx="11" ry="6.8" fill="#000" transform="rotate(-15 1009.5 746)"/>
<path d="M 1040,735 L 1049,742" fill="none" stroke="#000" stroke-width="2.2" stroke-linejoin="round" stroke-linecap="round" />
<path d="M 968.5,787 L 969,804 Q 973,807 977.5,804 L 977.5,786" fill="#fff" stroke="#000" stroke-width="2.6" stroke-linejoin="round" stroke-linecap="round" />
<path d="M 1112,711 Q 1123.5,707 1135.5,711 L 1135.5,742 Q 1124,746 1112,742 Z" fill="none" stroke="#000" stroke-width="2.8" stroke-linejoin="round" stroke-linecap="round" />
<ellipse cx="1123.7" cy="716.5" rx="9" ry="3" fill="none" stroke="#000" stroke-width="2.2"/>
<path d="M 1112,727 Q 1124,732 1135.5,727" fill="none" stroke="#000" stroke-width="2.6" stroke-linejoin="round" stroke-linecap="round" />
<path d="M 1116,743 L 1116.5,860 M 1130.8,743 L 1131,863" fill="none" stroke="#000" stroke-width="2.6" stroke-linejoin="round" stroke-linecap="round" />
<path d="M 1104,867 Q 1110,860 1116,858 Q 1123,863 1131,863 Q 1140,862 1149,857" fill="none" stroke="#000" stroke-width="2.6" stroke-linejoin="round" stroke-linecap="round" />
<path d="M 1101.5,894.5 Q 1108,886 1115,883.5 Q 1124,889 1131,888 Q 1140,885 1148.5,882.8" fill="none" stroke="#000" stroke-width="2.6" stroke-linejoin="round" stroke-linecap="round" />
<path d="M 1118.0,884.2 C 1119.5,889.0 1125.1,905.1 1127.2,912.7 C 1129.3,920.3 1128.8,923.6 1130.8,929.8 C 1132.8,936.0 1136.9,944.2 1139.3,949.7 C 1141.7,955.2 1143.7,958.0 1145.0,962.5 C 1146.3,967.0 1146.9,970.8 1147.1,976.7 C 1147.3,982.6 1147.5,989.8 1146.4,998.1 C 1145.3,1006.4 1144.5,1015.8 1140.7,1026.5 C 1136.9,1037.2 1132.5,1050.2 1123.7,1062.1 C 1114.9,1074.0 1101.1,1089.9 1088.1,1097.7 C 1075.0,1105.5 1057.3,1108.6 1045.4,1109.1 C 1033.5,1109.6 1025.2,1106.0 1016.9,1100.5 C 1008.6,1095.0 1000.5,1086.2 995.6,1076.3 C 990.8,1066.3 989.0,1051.5 987.8,1040.8 C 986.6,1030.1 987.0,1022.3 988.5,1012.3 C 990.0,1002.3 992.3,990.0 997.0,981.0 C 1001.7,972.0 1008.8,963.4 1016.9,958.2 C 1025.0,953.0 1040.7,951.1 1045.4,949.7 " fill="none" stroke="#000" stroke-width="2.6" stroke-linejoin="round" stroke-linecap="round" />
<path d="M 1133.6,889.9 C 1134.7,893.5 1138.3,905.1 1140.0,911.3 C 1141.7,917.5 1141.8,921.4 1143.6,926.9 C 1145.4,932.4 1148.1,938.1 1150.7,944.0 C 1153.3,949.9 1157.4,955.9 1159.2,962.5 C 1161.0,969.1 1161.3,975.5 1161.4,983.8 C 1161.5,992.1 1161.9,1001.6 1159.9,1012.3 C 1157.9,1023.0 1154.2,1037.9 1149.3,1047.9 C 1144.4,1057.9 1139.8,1062.4 1130.8,1072.1 C 1121.8,1081.8 1109.4,1097.8 1095.2,1106.2 C 1081.0,1114.6 1060.8,1123.5 1045.4,1122.6 C 1030.0,1121.6 1014.1,1110.6 1002.7,1100.5 C 991.3,1090.4 981.9,1075.6 977.1,1062.1 C 972.4,1048.6 973.2,1032.9 974.2,1019.4 C 975.2,1005.9 978.3,991.7 982.8,981.0 C 987.3,970.3 995.1,961.8 1001.3,955.4 C 1007.5,949.0 1012.7,945.9 1019.8,942.6 C 1026.9,939.3 1040.0,936.7 1044.0,935.5 " fill="none" stroke="#000" stroke-width="2.6" stroke-linejoin="round" stroke-linecap="round" />
<path d="M 1126.5,912 Q 1133,914 1139.3,911" fill="none" stroke="#000" stroke-width="2.2" stroke-linejoin="round" stroke-linecap="round" />
<path d="M 1053,928 L 1056,926 L 1063,925.8 L 1069,928 L 1072.5,936 L 1072.5,946 L 1068,952.5 L 1056,953.8 L 1052.5,950 Z" fill="#000" stroke="#000" stroke-width="1" stroke-linejoin="round" stroke-linecap="round" />
<path d="M 1045,935 L 1056,933.5 Q 1059,941 1057,950 L 1045.5,950.5 Q 1047,942 1045,935 Z" fill="#fff" stroke="#000" stroke-width="2.6" stroke-linejoin="round" stroke-linecap="round" />
<path d="M 1062,935 L 1066,933.8 L 1068.8,937 L 1068,941 L 1063.5,941 Z" fill="#fff" stroke="#fff" stroke-width="0.5" stroke-linejoin="round" stroke-linecap="round" />
<path d="M 1063,948.8 L 1068,946" fill="none" stroke="#fff" stroke-width="1.6" stroke-linejoin="round" stroke-linecap="round" />
<path d="M 916.3,76.8 L 944.3,40.5 L 986.7,40.5" fill="none" stroke="#363a3d" stroke-width="2.6" stroke-linecap="butt" stroke-linejoin="miter"/>
<path d="M 1091.2,266.3 L 1118.4,229.4 L 1162.1,229.4" fill="none" stroke="#363a3d" stroke-width="2.6" stroke-linecap="butt" stroke-linejoin="miter"/>
<path d="M 746.6,387.6 L 773.7,352.4 L 816.4,352.4" fill="none" stroke="#363a3d" stroke-width="2.6" stroke-linecap="butt" stroke-linejoin="miter"/>
<path d="M 562.7,452.0 L 589.8,418.0 L 632.6,418.0" fill="none" stroke="#363a3d" stroke-width="2.6" stroke-linecap="butt" stroke-linejoin="miter"/>
<path d="M 545.3,490.4 L 562.7,583.9 L 605.5,583.9" fill="none" stroke="#363a3d" stroke-width="2.6" stroke-linecap="butt" stroke-linejoin="miter"/>
<path d="M 789.8,541.2 L 816.5,505.6 L 858.5,505.6" fill="none" stroke="#363a3d" stroke-width="2.6" stroke-linecap="butt" stroke-linejoin="miter"/>
<path d="M 746.6,761.9 L 773.5,727.8 L 816.9,727.8" fill="none" stroke="#363a3d" stroke-width="2.6" stroke-linecap="butt" stroke-linejoin="miter"/>
<path d="M 648.2,935.0 L 690.9,935.0 L 704.5,977.2" fill="none" stroke="#363a3d" stroke-width="2.6" stroke-linecap="butt" stroke-linejoin="miter"/>
<path d="M 745.3,958.1 L 771.8,922.8 L 814.5,922.8" fill="none" stroke="#363a3d" stroke-width="2.6" stroke-linecap="butt" stroke-linejoin="miter"/>
<path d="M 770.4,975.8 L 784.7,1021.3 L 827.5,1021.3" fill="none" stroke="#363a3d" stroke-width="2.6" stroke-linecap="butt" stroke-linejoin="miter"/>
<path d="M 516.7,1104.0 L 542.5,1070.4 L 586.5,1070.4" fill="none" stroke="#363a3d" stroke-width="2.6" stroke-linecap="butt" stroke-linejoin="miter"/>
<path d="M 611.1,1144.1 L 637,1110.5 L 678.4,1110.5" fill="none" stroke="#363a3d" stroke-width="2.6" stroke-linecap="butt" stroke-linejoin="miter"/>
<path d="M 823.1,1185.4 L 850.2,1151.4 L 892.3,1151.4" fill="none" stroke="#363a3d" stroke-width="2.6" stroke-linecap="butt" stroke-linejoin="miter"/>
<path d="M 1010.6,1251.6 L 1037.7,1217.5 L 1079.8,1217.5" fill="none" stroke="#363a3d" stroke-width="2.6" stroke-linecap="butt" stroke-linejoin="miter"/>
<path d="M 740.9,1262.4 L 773.7,1281.7 L 817.4,1281.7" fill="none" stroke="#363a3d" stroke-width="2.6" stroke-linecap="butt" stroke-linejoin="miter"/>
<path d="M 747.6,1321.2 L 780.4,1341.4 L 823.3,1341.4" fill="none" stroke="#363a3d" stroke-width="2.6" stroke-linecap="butt" stroke-linejoin="miter"/>
<path d="M 803.1,1457.5 L 838.5,1477.7 L 881.3,1477.7" fill="none" stroke="#363a3d" stroke-width="2.6" stroke-linecap="butt" stroke-linejoin="miter"/>
<path d="M 1139.6,654.9 L 1166.4,619.4 L 1209.5,619.4" fill="none" stroke="#363a3d" stroke-width="2.6" stroke-linecap="butt" stroke-linejoin="miter"/>
<path d="M 1018.8,739.9 L 1023.3,691.0 L 1066.8,691.0" fill="none" stroke="#363a3d" stroke-width="2.6" stroke-linecap="butt" stroke-linejoin="miter"/>
<path d="M 1129.3,779.8 L 1156.4,745.9 L 1198.1,745.9" fill="none" stroke="#363a3d" stroke-width="2.6" stroke-linecap="butt" stroke-linejoin="miter"/>
<path d="M 955.3,2.4 L 955.3,29.0 M 955.6,2.9 L 947.6,9.7" fill="none" stroke="#111" stroke-width="2.9" stroke-linecap="butt"/><text x="960.6" y="29.0" font-size="37.6" fill="#111" stroke="#fff" stroke-width="0.45">3</text>
<path d="M 1130.3,189.7 L 1130.3,218.5 M 1130.6,190.2 L 1122.6,197.0" fill="none" stroke="#111" stroke-width="2.9" stroke-linecap="butt"/><text x="1133.6" y="218.5" font-size="40.6" fill="#111" stroke="#fff" stroke-width="0.45">2</text>
<path d="M 784.6,311.1 L 784.6,340.8 M 784.9,311.6 L 776.9,318.4" fill="none" stroke="#111" stroke-width="2.9" stroke-linecap="butt"/><text x="789.8" y="340.8" font-size="41.9" fill="#111" stroke="#fff" stroke-width="0.45">4</text>
<path d="M 599.8,377.8 L 599.8,407.2 M 600.0,378.3 L 592.0,385.1" fill="none" stroke="#111" stroke-width="2.9" stroke-linecap="butt"/><text x="602.5" y="407.2" font-size="41.5" fill="#111" stroke="#fff" stroke-width="0.45">7</text>
<path d="M 574.3,542.8 L 574.3,572.2 M 574.6,543.3 L 566.6,550.1" fill="none" stroke="#111" stroke-width="2.9" stroke-linecap="butt"/><text x="578.0" y="572.2" font-size="41.5" fill="#111" stroke="#fff" stroke-width="0.45">8</text>
<path d="M 827.1,465.1 L 827.1,494.7 M 827.4,465.6 L 819.4,472.4" fill="none" stroke="#111" stroke-width="2.9" stroke-linecap="butt"/><text x="831.3" y="494.7" font-size="41.8" fill="#111" stroke="#fff" stroke-width="0.45">6</text>
<path d="M 785.2,686.8 L 785.2,716.0 M 785.5,687.3 L 777.5,694.1" fill="none" stroke="#111" stroke-width="2.9" stroke-linecap="butt"/><text x="788.7" y="716.0" font-size="41.2" fill="#111" stroke="#fff" stroke-width="0.45">5</text>
<text x="660.1" y="925.7" font-size="39.8" letter-spacing="0.00" fill="#111" stroke="#fff" stroke-width="0.45">5</text>
<text x="786.0" y="910.1" font-size="41.8" letter-spacing="0.00" fill="#111" stroke="#fff" stroke-width="0.45">4</text>
<text x="798.9" y="1006.5" font-size="40.8" letter-spacing="0.00" fill="#111" stroke="#fff" stroke-width="0.45">3</text>
<text x="546.4" y="1060.1" font-size="41.6" letter-spacing="-4.90" fill="#111" stroke="#fff" stroke-width="0.45">20</text>
<path d="M 648.6,1068.2 L 648.6,1096.3 M 648.9,1068.7 L 640.9,1075.5" fill="none" stroke="#111" stroke-width="2.9" stroke-linecap="butt"/><text x="653.7" y="1096.3" font-size="39.7" fill="#111" stroke="#fff" stroke-width="0.45">9</text>
<text x="864.2" y="1138.1" font-size="40.6" letter-spacing="0.00" fill="#111" stroke="#fff" stroke-width="0.45">2</text>
<path d="M 1061.2,1175.5 L 1061.2,1204.3 M 1061.5,1176.0 L 1053.5,1182.8" fill="none" stroke="#111" stroke-width="2.9" stroke-linecap="butt"/>
<text x="790.0" y="1267.5" font-size="40.6" letter-spacing="0.00" fill="#111" stroke="#fff" stroke-width="0.45">8</text>
<text x="794.0" y="1328.6" font-size="40.6" letter-spacing="0.00" fill="#111" stroke="#fff" stroke-width="0.45">7</text>
<text x="853.6" y="1464.7" font-size="40.1" letter-spacing="0.00" fill="#111" stroke="#fff" stroke-width="0.45">6</text>
<text x="1179.2" y="605.4" font-size="40.6" letter-spacing="0.00" fill="#111" stroke="#fff" stroke-width="0.45">9</text>
<path d="M 1036.0,650.3 L 1036.0,679.8 M 1036.2,650.8 L 1028.2,657.6" fill="none" stroke="#111" stroke-width="2.9" stroke-linecap="butt"/><text x="1041.0" y="679.8" font-size="41.6" fill="#111" stroke="#fff" stroke-width="0.45">0</text>
<path d="M 1173.6,703.7 L 1173.6,733.3 M 1173.9,704.2 L 1165.9,711.0" fill="none" stroke="#111" stroke-width="2.9" stroke-linecap="butt"/><path d="M 1186.6,703.7 L 1186.6,733.3 M 1186.9,704.2 L 1178.9,711.0" fill="none" stroke="#111" stroke-width="2.9" stroke-linecap="butt"/>
</svg>
</body></html>
